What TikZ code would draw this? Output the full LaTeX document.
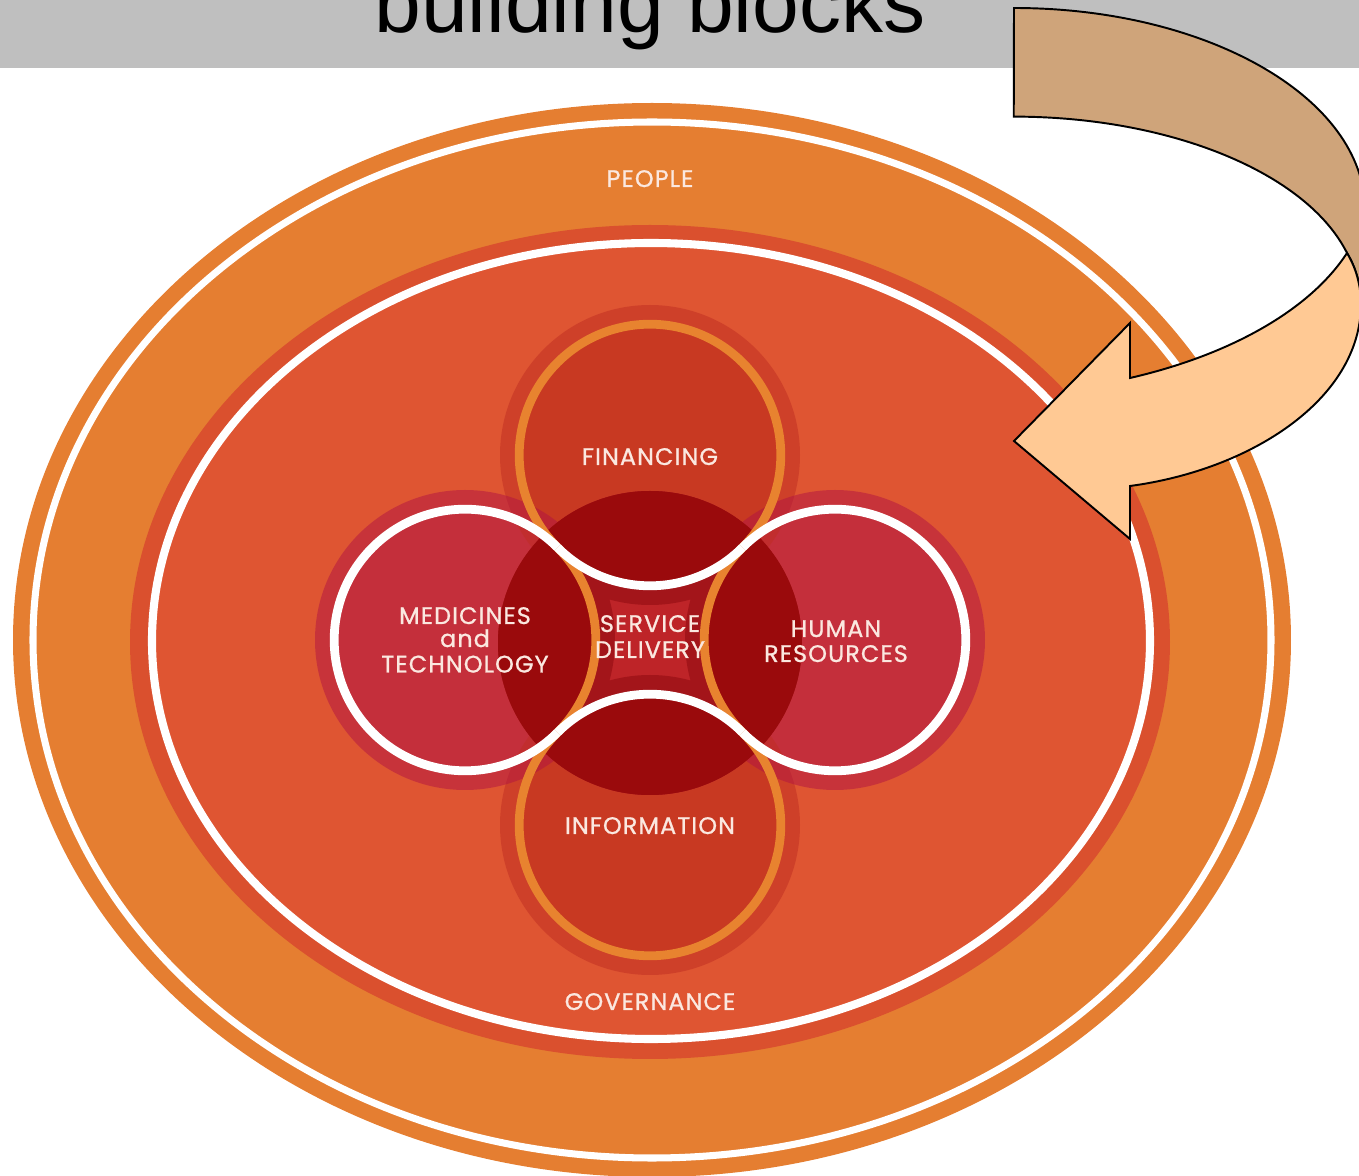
\documentclass[tikz,border=0pt]{standalone}
\usepackage{fontspec}
\setmainfont{Liberation Sans}
\newfontfamily\labfam{Poppins}[LetterSpace=4.5, FakeBold=0.9]
\begin{document}
\begin{tikzpicture}[x=0.01cm,y=-0.01cm]
\definecolor{banner}{HTML}{BFBFBF}
\definecolor{outerorange}{HTML}{E57E31}
\definecolor{innerband}{HTML}{DA502E}
\definecolor{innerfill}{HTML}{DF5532}
\definecolor{petalF}{HTML}{C83922}
\definecolor{petalM}{HTML}{C42F3B}
\definecolor{haloF}{RGB}{191,45,34}
\definecolor{haloM}{RGB}{177,19,66}
\definecolor{corepatch}{HTML}{BE2428}
\definecolor{corehalo}{HTML}{A3151A}
\definecolor{corepetal}{HTML}{9A0A0C}
\definecolor{ringorange}{HTML}{E8832F}
\definecolor{labtext}{HTML}{FBE8E0}
\definecolor{arrowback}{HTML}{CFA47A}
\definecolor{arrowfront}{HTML}{FFC994}
\tikzset{
  lab/.style={text=labtext, anchor=base, inner sep=0pt, font=\labfam\fontsize{6.8}{8}\selectfont},
  titletext/.style={text=black, anchor=base, inner sep=0pt, font=\fontsize{23.9}{28}\selectfont},
  whitering/.style={draw=white, line width=2.5pt},
  orangering/.style={draw=ringorange, line width=2.5pt},
  arrowline/.style={draw=black, line width=0.55pt, line join=miter},
  halo/.style={fill opacity=0.5, even odd rule}
}
\useasboundingbox (0,0) rectangle (1359,1176);
\clip (0,0) rectangle (1359,1176);
% banner
\fill[banner] (0,0) rectangle (1359,68);
\node[titletext] (title) at (650,33) {building blocks};
% ellipses
\fill[outerorange] (652,640) ellipse[x radius=639, y radius=537];
\draw[white, line width=2pt] (652,640) ellipse[x radius=619, y radius=518];
\fill[innerband] (650,642) ellipse[x radius=520, y radius=417];
\filldraw[fill=innerfill, draw=white, line width=2.3pt] (651,641) ellipse[x radius=499, y radius=398];
% petal interiors
\fill[petalF] (650,455) circle[radius=130.8] (650,825) circle[radius=130.8];
\fill[petalM] (465,640) circle[radius=130.8] (835,640) circle[radius=130.8];
% halos
\fill[haloF, halo] (650,455) circle[radius=150] circle[radius=130.8];
\fill[haloF, halo] (650,825) circle[radius=150] circle[radius=130.8];
\fill[haloM, halo] (465,640) circle[radius=150] circle[radius=130.8];
\fill[haloM, halo] (835,640) circle[radius=150] circle[radius=130.8];
% core
\begin{scope}
  \clip (650,643) circle[radius=152];
  \fill[corepatch] (650,643) circle[radius=152];
  \fill[corehalo] (650,455) circle[radius=150] (465,640) circle[radius=150] (835,640) circle[radius=150] (650,825) circle[radius=150];
  \fill[corepetal] (650,455) circle[radius=130.8] (465,640) circle[radius=130.8] (835,640) circle[radius=130.8] (650,825) circle[radius=130.8];
\end{scope}
% rings
\draw[orangering] (650,455) ++(135:130.8) arc[start angle=135, end angle=405, radius=130.8];
\draw[orangering] (835,640) ++(135:130.8) arc[start angle=135, end angle=225, radius=130.8];
\draw[orangering] (650,825) ++(-45:130.8) arc[start angle=-45, end angle=225, radius=130.8];
\draw[orangering] (465,640) ++(-45:130.8) arc[start angle=-45, end angle=45, radius=130.8];
\draw[whitering] (650,455) ++(45:130.8) arc[start angle=45, end angle=135, radius=130.8];
\draw[whitering] (465,640) ++(45:130.8) arc[start angle=45, end angle=315, radius=130.8];
\draw[whitering] (650,825) ++(225:130.8) arc[start angle=225, end angle=315, radius=130.8];
\draw[whitering] (835,640) ++(-135:130.8) arc[start angle=-135, end angle=135, radius=130.8];
% labels
\node[lab] (people) at (650,187) {PEOPLE};
\node[lab] (governance) at (650,1010) {GOVERNANCE};
\node[lab] (financing) at (650,465) {FINANCING};
\node[lab] (information) at (650,834) {INFORMATION};
\node[lab] (med1) at (465,624) {MEDICINES};
\node[lab] (med2) at (465,647) {and};
\node[lab] (med3) at (465,672.5) {TECHNOLOGY};
\node[lab] (sd1) at (650,632) {SERVICE};
\node[lab] (sd2) at (650,658) {DELIVERY};
\node[lab] (hr1) at (836,637) {HUMAN};
\node[lab] (hr2) at (836,662) {RESOURCES};
% curved arrow
\filldraw[arrowline, fill=arrowback] (1014,8) arc[start angle=270, end angle=360, x radius=351, y radius=202]
  -- (1375,210) -- (1375,305) -- (1361,305) .. controls (1361,285) and (1356,268) .. (1347,253)
  arc[start angle=345, end angle=270, x radius=345, y radius=184] -- cycle;
\filldraw[arrowline, fill=arrowfront] (1347,253) .. controls (1356,268) and (1361,285) .. (1361,305)
  .. controls (1360,400) and (1250,470) .. (1130,486) -- (1130,539) -- (1014,441) -- (1130,323)
  -- (1130,378) .. controls (1230,355) and (1310,310) .. (1347,253) -- cycle;
\end{tikzpicture}
\end{document}
